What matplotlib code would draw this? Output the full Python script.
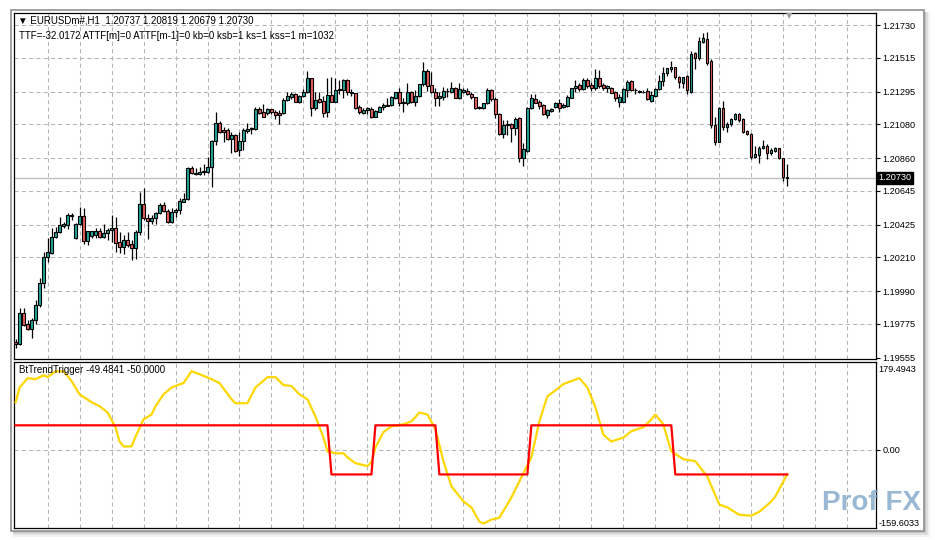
import matplotlib.pyplot as plt
import numpy as np
from matplotlib.patches import Rectangle

# EURUSDm# H1 candles, oldest first
opens = [
    1.19660, 1.19642, 1.19845, 1.19773, 1.19740, 1.19801, 1.19899, 1.20041, 1.20215, 1.20241,
    1.20342, 1.20374, 1.20418, 1.20422, 1.20481, 1.20335, 1.20427, 1.20481, 1.20320, 1.20353,
    1.20357, 1.20383, 1.20346, 1.20368, 1.20390, 1.20405, 1.20313, 1.20281, 1.20324, 1.20296,
    1.20270, 1.20374, 1.20558, 1.20466, 1.20449, 1.20466, 1.20499, 1.20553, 1.20514, 1.20445,
    1.20510, 1.20521, 1.20576, 1.20591, 1.20794, 1.20761, 1.20754, 1.20767, 1.20767, 1.20804,
    1.20972, 1.21088, 1.21044, 1.21044, 1.20983, 1.21012, 1.20913, 1.20972, 1.21040, 1.21049,
    1.21049, 1.21179, 1.21160, 1.21153, 1.21179, 1.21160, 1.21158, 1.21153, 1.21240, 1.21262,
    1.21280, 1.21230, 1.21267, 1.21291, 1.21382, 1.21186, 1.21247, 1.21234, 1.21163, 1.21272,
    1.21229, 1.21303, 1.21305, 1.21371, 1.21294, 1.21283, 1.21192, 1.21153, 1.21172, 1.21181,
    1.21131, 1.21163, 1.21196, 1.21203, 1.21207, 1.21251, 1.21290, 1.21224, 1.21222, 1.21294,
    1.21229, 1.21266, 1.21342, 1.21429, 1.21338, 1.21290, 1.21251, 1.21262, 1.21299, 1.21294,
    1.21316, 1.21251, 1.21294, 1.21299, 1.21281, 1.21257, 1.21192, 1.21185, 1.21218, 1.21305,
    1.21246, 1.21146, 1.21017, 1.21076, 1.21081, 1.21059, 1.21120, 1.20863, 1.20908, 1.21185,
    1.21246, 1.21224, 1.21207, 1.21142, 1.21170, 1.21196, 1.21218, 1.21196, 1.21203, 1.21255,
    1.21316, 1.21338, 1.21310, 1.21371, 1.21338, 1.21320, 1.21386, 1.21338, 1.21316, 1.21316,
    1.21294, 1.21229, 1.21229, 1.21305, 1.21364, 1.21305, 1.21290, 1.21294, 1.21298, 1.21233,
    1.21268, 1.21309, 1.21364, 1.21414, 1.21442, 1.21453, 1.21388, 1.21349, 1.21396, 1.21294,
    1.21545, 1.21516, 1.21621, 1.21638, 1.21495, 1.21076, 1.20967, 1.21189, 1.21061, 1.21080,
    1.21115, 1.21146, 1.21113, 1.21039, 1.21015, 1.20869, 1.20880, 1.20923, 1.20939, 1.20891,
    1.20906, 1.20923, 1.20858, 1.20737,
]
highs = [
    1.19677, 1.19877, 1.19877, 1.19801, 1.19816, 1.19932, 1.20074, 1.20248, 1.20340, 1.20405,
    1.20412, 1.20477, 1.20444, 1.20499, 1.20499, 1.20438, 1.20542, 1.20531, 1.20383, 1.20385,
    1.20405, 1.20405, 1.20427, 1.20405, 1.20488, 1.20477, 1.20379, 1.20357, 1.20379, 1.20324,
    1.20390, 1.20640, 1.20662, 1.20492, 1.20488, 1.20510, 1.20564, 1.20571, 1.20527, 1.20532,
    1.20532, 1.20597, 1.20630, 1.20804, 1.20809, 1.20794, 1.20800, 1.20822, 1.20866, 1.20979,
    1.21160, 1.21105, 1.21066, 1.21055, 1.21033, 1.21018, 1.21033, 1.21055, 1.21088, 1.21066,
    1.21197, 1.21192, 1.21214, 1.21190, 1.21184, 1.21175, 1.21175, 1.21256, 1.21291, 1.21291,
    1.21284, 1.21273, 1.21310, 1.21430, 1.21382, 1.21295, 1.21295, 1.21267, 1.21386, 1.21392,
    1.21381, 1.21371, 1.21377, 1.21377, 1.21312, 1.21283, 1.21207, 1.21190, 1.21196, 1.21192,
    1.21174, 1.21203, 1.21218, 1.21251, 1.21268, 1.21294, 1.21320, 1.21251, 1.21349, 1.21299,
    1.21305, 1.21347, 1.21490, 1.21440, 1.21425, 1.21316, 1.21290, 1.21327, 1.21316, 1.21360,
    1.21323, 1.21349, 1.21320, 1.21320, 1.21290, 1.21262, 1.21203, 1.21222, 1.21316, 1.21310,
    1.21262, 1.21153, 1.21109, 1.21109, 1.21087, 1.21131, 1.21131, 1.20956, 1.21196, 1.21277,
    1.21277, 1.21240, 1.21211, 1.21181, 1.21190, 1.21229, 1.21246, 1.21218, 1.21272, 1.21316,
    1.21371, 1.21349, 1.21381, 1.21386, 1.21360, 1.21440, 1.21436, 1.21349, 1.21338, 1.21327,
    1.21299, 1.21277, 1.21320, 1.21371, 1.21371, 1.21320, 1.21305, 1.21305, 1.21320, 1.21301,
    1.21320, 1.21403, 1.21458, 1.21451, 1.21495, 1.21458, 1.21399, 1.21392, 1.21403, 1.21560,
    1.21551, 1.21654, 1.21676, 1.21682, 1.21508, 1.21131, 1.21196, 1.21233, 1.21094, 1.21120,
    1.21153, 1.21153, 1.21120, 1.21047, 1.21022, 1.20941, 1.20941, 1.20978, 1.20950, 1.20923,
    1.20934, 1.20928, 1.20862, 1.20819,
]
lows = [
    1.19616, 1.19638, 1.19764, 1.19736, 1.19686, 1.19773, 1.19888, 1.20008, 1.20178, 1.20233,
    1.20335, 1.20368, 1.20401, 1.20394, 1.20455, 1.20329, 1.20422, 1.20296, 1.20292, 1.20335,
    1.20340, 1.20340, 1.20340, 1.20324, 1.20313, 1.20248, 1.20237, 1.20231, 1.20281, 1.20194,
    1.20198, 1.20357, 1.20455, 1.20329, 1.20427, 1.20429, 1.20494, 1.20510, 1.20438, 1.20434,
    1.20477, 1.20495, 1.20571, 1.20586, 1.20756, 1.20750, 1.20750, 1.20750, 1.20761, 1.20669,
    1.20946, 1.21027, 1.20968, 1.20979, 1.20896, 1.20903, 1.20876, 1.20913, 1.21022, 1.21018,
    1.21044, 1.21149, 1.21127, 1.21142, 1.21149, 1.21114, 1.21081, 1.21149, 1.21236, 1.21245,
    1.21225, 1.21219, 1.21258, 1.21284, 1.21136, 1.21175, 1.21223, 1.21127, 1.21131, 1.21224,
    1.21224, 1.21277, 1.21251, 1.21272, 1.21268, 1.21179, 1.21146, 1.21146, 1.21148, 1.21124,
    1.21126, 1.21159, 1.21174, 1.21203, 1.21203, 1.21246, 1.21203, 1.21163, 1.21207, 1.21222,
    1.21203, 1.21262, 1.21333, 1.21299, 1.21283, 1.21203, 1.21203, 1.21240, 1.21257, 1.21288,
    1.21251, 1.21246, 1.21288, 1.21272, 1.21244, 1.21181, 1.21179, 1.21181, 1.21214, 1.21233,
    1.21120, 1.21011, 1.20993, 1.21011, 1.20963, 1.21011, 1.20832, 1.20810, 1.20902, 1.21181,
    1.21218, 1.21181, 1.21142, 1.21124, 1.21159, 1.21185, 1.21159, 1.21185, 1.21196, 1.21251,
    1.21290, 1.21299, 1.21305, 1.21316, 1.21299, 1.21305, 1.21316, 1.21305, 1.21294, 1.21283,
    1.21235, 1.21196, 1.21224, 1.21262, 1.21299, 1.21277, 1.21283, 1.21283, 1.21240, 1.21229,
    1.21261, 1.21305, 1.21333, 1.21399, 1.21425, 1.21375, 1.21316, 1.21316, 1.21277, 1.21287,
    1.21442, 1.21501, 1.21610, 1.21468, 1.21054, 1.20945, 1.20963, 1.21043, 1.21028, 1.21069,
    1.21109, 1.21098, 1.21022, 1.21011, 1.20854, 1.20862, 1.20825, 1.20919, 1.20854, 1.20880,
    1.20897, 1.20854, 1.20710, 1.20679,
]
closes = [
    1.19645, 1.19845, 1.19768, 1.19740, 1.19801, 1.19899, 1.20041, 1.20215, 1.20248, 1.20342,
    1.20374, 1.20422, 1.20429, 1.20488, 1.20486, 1.20427, 1.20481, 1.20320, 1.20383, 1.20383,
    1.20383, 1.20346, 1.20368, 1.20390, 1.20405, 1.20303, 1.20281, 1.20324, 1.20292, 1.20270,
    1.20374, 1.20558, 1.20466, 1.20449, 1.20466, 1.20499, 1.20553, 1.20514, 1.20444, 1.20510,
    1.20521, 1.20580, 1.20591, 1.20794, 1.20761, 1.20756, 1.20772, 1.20776, 1.20804, 1.20972,
    1.21088, 1.21033, 1.21033, 1.20985, 1.21012, 1.20909, 1.20972, 1.21044, 1.21051, 1.21055,
    1.21179, 1.21158, 1.21127, 1.21179, 1.21160, 1.21142, 1.21140, 1.21240, 1.21267, 1.21280,
    1.21230, 1.21267, 1.21291, 1.21382, 1.21186, 1.21240, 1.21230, 1.21158, 1.21272, 1.21229,
    1.21305, 1.21310, 1.21371, 1.21294, 1.21285, 1.21185, 1.21159, 1.21174, 1.21190, 1.21131,
    1.21168, 1.21192, 1.21207, 1.21207, 1.21257, 1.21290, 1.21222, 1.21220, 1.21290, 1.21229,
    1.21266, 1.21342, 1.21429, 1.21333, 1.21290, 1.21251, 1.21268, 1.21299, 1.21301, 1.21316,
    1.21255, 1.21312, 1.21305, 1.21277, 1.21262, 1.21190, 1.21185, 1.21218, 1.21305, 1.21244,
    1.21146, 1.21017, 1.21076, 1.21081, 1.21059, 1.21115, 1.20863, 1.20917, 1.21190, 1.21251,
    1.21222, 1.21203, 1.21146, 1.21174, 1.21181, 1.21218, 1.21190, 1.21207, 1.21262, 1.21316,
    1.21331, 1.21310, 1.21371, 1.21333, 1.21320, 1.21386, 1.21333, 1.21320, 1.21333, 1.21288,
    1.21251, 1.21262, 1.21310, 1.21360, 1.21305, 1.21307, 1.21298, 1.21294, 1.21246, 1.21272,
    1.21311, 1.21364, 1.21414, 1.21447, 1.21453, 1.21388, 1.21355, 1.21388, 1.21305, 1.21538,
    1.21512, 1.21625, 1.21643, 1.21479, 1.21076, 1.20967, 1.21189, 1.21065, 1.21080, 1.21115,
    1.21146, 1.21109, 1.21032, 1.21015, 1.20869, 1.20884, 1.20923, 1.20939, 1.20891, 1.20913,
    1.20928, 1.20858, 1.20734, 1.20730,
]

price_ticks = [1.21730, 1.21515, 1.21295, 1.21080, 1.20860, 1.20645,
               1.20425, 1.20210, 1.19990, 1.19775, 1.19555]
last_price = 1.20730

# BtTrendTrigger: TTF line (yellow) sampled by bar, trigger (red) as +/-50 segments
ttf_bars = [0, 1, 3, 5, 7, 8, 10, 12, 14, 16, 19, 21, 23, 25, 26, 27, 29, 30, 32, 34,
            35, 37, 39, 42, 44, 46, 49, 51, 54, 55, 58, 60, 63, 65, 67, 69, 71, 73, 75, 77,
            78, 80, 82, 83, 85, 88, 89, 90, 92, 94, 97, 99, 101, 103, 105, 107, 109, 112, 114, 116,
            117, 119, 121, 124, 126, 129, 131, 133, 135, 137, 141, 143, 145, 147, 149, 152, 154, 157, 159, 160,
            162, 164, 167, 170, 173, 176, 178, 181, 184, 186, 189, 190, 193]
ttf_vals = [97, 127, 146, 144, 152, 148, 160, 160, 140, 113, 97, 89, 76, 46, 17, 7, 7, 27, 62, 72,
            89, 113, 127, 136, 160, 154, 144, 136, 103, 95, 95, 127, 148, 148, 132, 130, 113, 103, 68, 25,
            -3, -7, -7, -15, -27, -33, -25, 5, 36, 48, 52, 58, 76, 72, 42, -23, -74, -105, -117, -146,
            -150, -142, -138, -97, -64, -15, 58, 109, 121, 134, 146, 127, 87, 31, 17, 25, 38, 46, 62, 72,
            52, -3, -19, -23, -54, -111, -117, -132, -134, -126, -105, -95, -49.4841]
trig_start = [0, 79, 90, 106, 129, 165]
trig_level = [50, -50, 50, -50, 50, -50]
ind_max, ind_min = 179.4943, -159.6033

W, H = 935, 540
FONT = 'Liberation Sans'
plt.rcParams['font.family'] = [FONT, 'DejaVu Sans']
grid_col = '#b4b4b4'
teal = '#26a69a'
red_body = '#e8605a'

fig = plt.figure(figsize=(W / 100, H / 100), dpi=100)
fig.patch.set_facecolor('white')

# window frame with a soft shadow
for k, a in enumerate([0.10, 0.18, 0.28]):
    d = 6 - 2 * k
    fig.patches.append(Rectangle((13 / W, 1 - (531 + d) / H), (911 + d) / W, (519 + d) / H,
                                 transform=fig.transFigure, facecolor='#808080', alpha=a,
                                 edgecolor='none', zorder=-3))
fig.patches.append(Rectangle((11 / W, 1 - 531 / H), 913 / W, 521 / H, transform=fig.transFigure,
                             facecolor='white', edgecolor='#909090', linewidth=1.2, zorder=-2))

left, right = 14, 876
ax = fig.add_axes([left / W, 1 - 358.7 / H, (right - left) / W, 346 / H])
ax2 = fig.add_axes([left / W, 1 - 528.3 / H, (right - left) / W, 166.6 / H])

n = len(closes)
x = np.arange(n)
o, h, l, c = (np.array(v) for v in (opens, highs, lows, closes))
up = c >= o
xlim = (-0.4, 215.2)
vgrid = np.arange(8, 215, 8)

# price panel
ax.vlines(x, l, h, color='black', lw=0.9, zorder=3)
ax.bar(x, np.abs(c - o), bottom=np.minimum(o, c), width=0.6,
       color=np.where(up, teal, red_body), edgecolor='black', linewidth=0.8, zorder=4)
ax.axhline(last_price, color='#c0c0c0', lw=1, zorder=2)
for gx in vgrid:
    ax.axvline(gx, color=grid_col, lw=0.75, ls=(0, (4, 3)), zorder=1)
for gy in price_ticks[:-1]:
    ax.axhline(gy, color=grid_col, lw=0.75, ls=(0, (4, 3)), zorder=1)
ax.set_xlim(*xlim)
ax.set_ylim(1.19548, 1.21811)
ax.set_xticks([])
ax.yaxis.tick_right()
ax.set_yticks(price_ticks)
ax.set_yticklabels([f'{p:.5f}' for p in price_ticks])
ax.tick_params(axis='y', length=3, width=0.8, pad=1.5, labelsize=6.6, colors='black')
ax.text(1.003, last_price, f'{last_price:.5f}', transform=ax.get_yaxis_transform(),
        ha='left', va='center', fontsize=6.6, color='white', zorder=10,
        bbox=dict(boxstyle='square,pad=0.15', facecolor='black', edgecolor='black'))
ax.text(0.005, 0.978, '▼ EURUSDm#,H1  1.20737 1.20819 1.20679 1.20730', transform=ax.transAxes,
        fontsize=7, va='center', ha='left')
ax.text(0.006, 0.932, 'TTF=-32.0172 ATTF[m]=0 ATTF[m-1]=0 kb=0 ksb=1 ks=1 kss=1 m=1032',
        transform=ax.transAxes, fontsize=7, va='center', ha='left')
ax.text(193.5, 1.21795, '▼', fontsize=6, color='#a0a0a0', ha='center', va='center',
        family=['DejaVu Sans'])

# indicator panel
trigger = np.zeros(n)
for s, e, v in zip(trig_start, trig_start[1:] + [n], trig_level):
    trigger[s:e] = v
ax2.plot(ttf_bars, ttf_vals, color='#ffd700', lw=1.6, zorder=3)
ax2.plot(x, trigger, color='#ff0000', lw=1.6, zorder=4)
for gx in vgrid:
    ax2.axvline(gx, color=grid_col, lw=0.75, ls=(0, (4, 3)), zorder=1)
ax2.axhline(0, color=grid_col, lw=0.75, ls=(0, (4, 3)), zorder=1)
ax2.set_xlim(*xlim)
ax2.set_ylim(ind_min, ind_max)
ax2.set_xticks([])
ax2.yaxis.tick_right()
ax2.set_yticks([0])
ax2.set_yticklabels(['0.00'])
ax2.tick_params(axis='y', length=3, width=0.8, pad=1.5, labelsize=6.6)
ax2.text(1.003, 0.956, f'{ind_max:.4f}', transform=ax2.transAxes, fontsize=6.6,
         ha='left', va='center')
ax2.text(1.003, 0.03, f'{ind_min:.4f}', transform=ax2.transAxes, fontsize=6.6,
         ha='left', va='center', zorder=30)
ax2.text(0.006, 0.95, 'BtTrendTrigger -49.4841 -50.0000', transform=ax2.transAxes,
         fontsize=7, va='center', ha='left')

for a in (ax, ax2):
    for sp in a.spines.values():
        sp.set_color('black')
        sp.set_linewidth(0.9)

# watermark
fig.text(822 / W, 1 - 503 / H, 'Prof FX', fontsize=20, fontweight='bold', color='#7fa6c8',
         alpha=0.8, ha='left', va='center', zorder=20)

fig.savefig('out.png', dpi=100)
